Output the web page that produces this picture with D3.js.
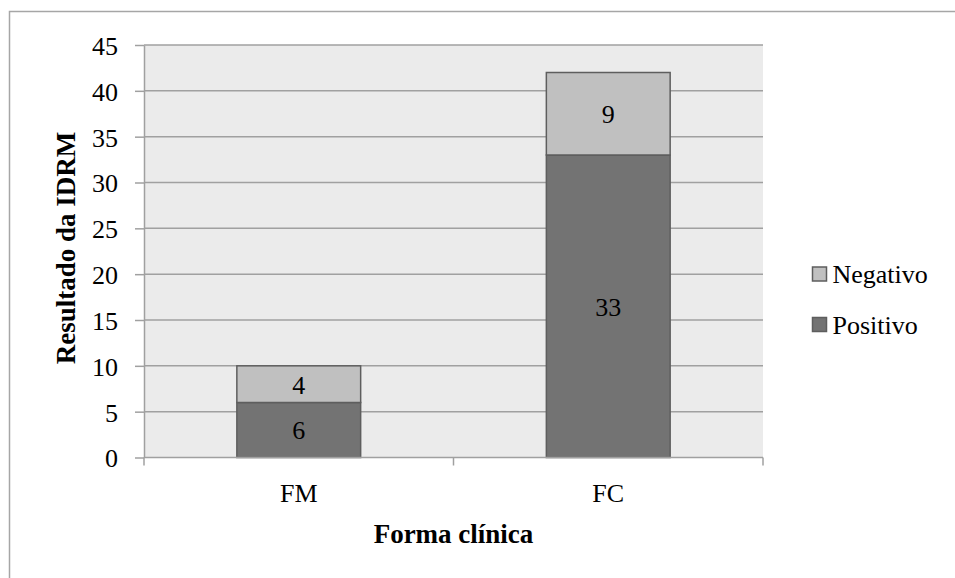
<!DOCTYPE html>
<html>
<head>
<meta charset="utf-8">
<script src="https://cdn.jsdelivr.net/npm/d3@7"></script>
<style>
  html, body { margin: 0; padding: 0; background: #fff; }
  svg { display: block; }
</style>
</head>
<body>
<svg id="chart" width="955" height="578"></svg>
<script>
// Forma clínica categories and IDRM results per category
const categories = ["FM", "FC"];
const positivo = [6, 33];
const negativo = [4, 9];
const seriesNames = ["Positivo", "Negativo"];
const seriesColors = ["#737373", "#c0c0c0"];
const yTicks = [0, 5, 10, 15, 20, 25, 30, 35, 40, 45];

const FONT_FAMILY = "'Liberation Serif', 'Times New Roman', serif";
const FONT = 26;
const svg = d3.select("#chart");

function styleText(sel, size, weight) {
  return sel
    .style("font-family", FONT_FAMILY)
    .style("font-size", size + "px")
    .style("font-weight", weight || "normal")
    .style("fill", "#000");
}

// outer chart frame
svg.append("rect")
  .attr("x", 9.5).attr("y", 11.5)
  .attr("width", 960).attr("height", 600)
  .attr("fill", "#fff").attr("stroke", "#a6a6a6").attr("stroke-width", 1.5);

const plot = { left: 144, right: 763, top: 45, bottom: 457.5 };

const x = d3.scaleBand()
  .domain(categories)
  .range([plot.left, plot.right])
  .paddingInner(0.6)
  .paddingOuter(0.3);

const xCat = d3.scaleBand().domain(categories).range([plot.left, plot.right]);

const y = d3.scaleLinear().domain([0, 45]).range([plot.bottom, plot.top]);

// plot background
svg.append("rect")
  .attr("x", plot.left).attr("y", plot.top)
  .attr("width", plot.right - plot.left).attr("height", plot.bottom - plot.top)
  .attr("fill", "#ebebeb");

// horizontal gridlines
svg.append("g")
  .selectAll("line")
  .data(yTicks.filter(d => d > 0))
  .join("line")
  .attr("x1", plot.left).attr("x2", plot.right)
  .attr("y1", d => y(d)).attr("y2", d => y(d))
  .attr("stroke", "#a0a0a0").attr("stroke-width", 1.5);

// y axis
const yAxis = svg.append("g")
  .attr("transform", `translate(${plot.left},0)`)
  .call(d3.axisLeft(y).tickValues(yTicks).tickSize(9).tickPadding(17).tickSizeOuter(0));
yAxis.select(".domain").attr("stroke", "#a0a0a0").attr("stroke-width", 1.5);
yAxis.selectAll(".tick line").attr("stroke", "#a0a0a0").attr("stroke-width", 1.5);
styleText(yAxis.selectAll(".tick text").attr("dy", "0.36em"), FONT);

// stacked data
const rows = categories.map((c, i) => ({ cat: c, Positivo: positivo[i], Negativo: negativo[i] }));
const stacked = d3.stack().keys(seriesNames)(rows);

const layers = svg.append("g")
  .selectAll("g")
  .data(stacked)
  .join("g");

layers.selectAll("rect")
  .data(d => d.map(v => ({ v, key: d.key })))
  .join("rect")
  .attr("x", d => x(d.v.data.cat))
  .attr("width", x.bandwidth())
  .attr("y", d => y(d.v[1]))
  .attr("height", d => y(d.v[0]) - y(d.v[1]))
  .attr("fill", d => seriesColors[seriesNames.indexOf(d.key)])
  .attr("stroke", "#5e5e5e").attr("stroke-width", 1.5);

// value labels
styleText(layers.selectAll("text")
  .data(d => d.map(v => ({ v, key: d.key })))
  .join("text")
  .attr("x", d => x(d.v.data.cat) + x.bandwidth() / 2)
  .attr("y", d => (y(d.v[0]) + y(d.v[1])) / 2)
  .attr("dy", "0.36em")
  .attr("text-anchor", "middle")
  .text(d => d.v.data[d.key]), FONT);

// x axis
const xAxis = svg.append("g")
  .attr("transform", `translate(0,${plot.bottom})`)
  .call(d3.axisBottom(xCat).tickSize(0).tickPadding(0));
xAxis.select(".domain").remove();
xAxis.selectAll(".tick line").remove();
styleText(xAxis.selectAll(".tick text").attr("y", 44.5).attr("dy", 0), FONT);

svg.append("line")
  .attr("x1", plot.left).attr("x2", plot.right)
  .attr("y1", plot.bottom).attr("y2", plot.bottom)
  .attr("stroke", "#a0a0a0").attr("stroke-width", 1.5);

// category boundary ticks
const bounds = [plot.left, plot.left + xCat.step(), plot.right];
svg.append("g").selectAll("line")
  .data(bounds)
  .join("line")
  .attr("x1", d => d).attr("x2", d => d)
  .attr("y1", plot.bottom).attr("y2", plot.bottom + 8)
  .attr("stroke", "#a0a0a0").attr("stroke-width", 1.5);

// axis titles
styleText(svg.append("text")
  .attr("x", (plot.left + plot.right) / 2).attr("y", 543)
  .attr("text-anchor", "middle")
  .text("Forma clínica"), 27, "bold");

styleText(svg.append("text")
  .attr("transform", `translate(75,248) rotate(-90)`)
  .attr("text-anchor", "middle")
  .text("Resultado da IDRM"), 27, "bold");

// legend (Negativo above Positivo)
const legendItems = [
  { name: "Negativo", color: seriesColors[1] },
  { name: "Positivo", color: seriesColors[0] }
];
const legend = svg.append("g").selectAll("g")
  .data(legendItems)
  .join("g")
  .attr("transform", (d, i) => `translate(812.5,${267 + i * 50.5})`);
legend.append("rect")
  .attr("width", 14).attr("height", 14)
  .attr("fill", d => d.color).attr("stroke", "#5e5e5e").attr("stroke-width", 1.5);
styleText(legend.append("text")
  .attr("x", 20).attr("y", 16)
  .text(d => d.name), FONT);
</script>
</body>
</html>
